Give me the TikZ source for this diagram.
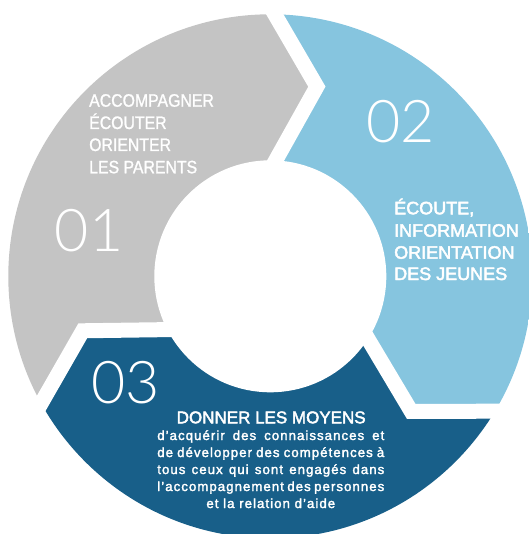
\documentclass[tikz,border=0pt]{standalone}
\usepackage{fontspec}
\setmainfont{Liberation Sans}
\newfontfamily\numfont{Lato Light}
\newfontfamily\grayfont{Liberation Sans}[FakeStretch=0.88,FakeBold=1.2]
\newfontfamily\medfont{Liberation Sans}[FakeBold=2.5]
\newfontfamily\bodyfont{Liberation Sans}[FakeBold=2.2,LetterSpace=8]
\usetikzlibrary{calc}
\definecolor{cgray}{HTML}{C4C4C4}
\definecolor{clight}{HTML}{86C5DF}
\definecolor{cdark}{HTML}{185F89}
\tikzset{
  gap/.style={draw=white, line width=15pt, line join=miter},
  num/.style={text=white, inner sep=0pt, font=\numfont\fontsize{59}{60}\selectfont},
  graytxt/.style={text=white, inner sep=0pt, anchor=base west, font=\grayfont\fontsize{18}{20}\selectfont},
  bluetxt/.style={text=white, inner sep=0pt, anchor=base west, font=\medfont\fontsize{18}{20}\selectfont},
  headtxt/.style={text=white, inner sep=0pt, anchor=base, font=\medfont\fontsize{17}{20}\selectfont},
  bodytxt/.style={text=white, inner sep=0pt, anchor=base, font=\bodyfont\fontsize{13.2}{16}\selectfont},
}
\begin{document}
\begin{tikzpicture}[x=1pt,y=1pt]
\useasboundingbox (0,0) rectangle (528,-534);
\coordinate (C) at (270.3,-276.3);
% chevron centre lines
\coordinate (T0) at ($(C)+(76.2:195.3)$);
\coordinate (F0) at ($(T0)+(120.2:300)$);
\coordinate (I0) at ($(T0)+(240.8:100)$);
\coordinate (T1) at ($(C)+(196.2:195.3)$);
\coordinate (F1) at ($(T1)+(240.2:300)$);
\coordinate (I1) at ($(T1)+(0.8:100)$);
\coordinate (T2) at ($(C)+(316.2:195.3)$);
\coordinate (F2) at ($(T2)+(0.2:300)$);
\coordinate (I2) at ($(T2)+(120.8:100)$);
\coordinate (G01) at ($(C)+(150:600)$);
\coordinate (G20) at ($(C)+(30:600)$);
\coordinate (G12) at ($(C)+(270:600)$);
\begin{scope}
  \clip (C) circle (262);
  \fill[cgray] (I0) -- (T0) -- (F0) -- (G01) -- (F1) -- (T1) -- (I1) -- (C) -- cycle;
  \fill[clight] (I2) -- (T2) -- (F2) -- (G20) -- (F0) -- (T0) -- (I0) -- (C) -- cycle;
  \fill[cdark] (I1) -- (T1) -- (F1) -- (G12) -- (F2) -- (T2) -- (I2) -- (C) -- cycle;
\end{scope}
\fill[white] (C) circle (116);
\draw[gap] (I0) -- (T0) -- (F0);
\draw[gap] (I1) -- (T1) -- (F1);
\draw[gap] (I2) -- (T2) -- (F2);
% numbers
\node[num] (n1) at (89.2,-230.5) {01};
\node[num] (n2) at (400.4,-121.7) {02};
\node[num] (n3) at (125.3,-382.5) {03};
% segment 01 text
\node[graytxt] (a1) at (89,-106.7) {ACCOMPAGNER};
\node[graytxt] (a2) at (89,-129) {ÉCOUTER};
\node[graytxt] (a3) at (89,-151) {ORIENTER};
\node[graytxt] (a4) at (89,-173.3) {LES PARENTS};
% segment 02 text
\node[bluetxt] (b1) at (394,-214.3) {ÉCOUTE,};
\node[bluetxt] (b2) at (394,-236.7) {INFORMATION};
\node[bluetxt] (b3) at (394,-258.7) {ORIENTATION};
\node[bluetxt] (b4) at (394,-280) {DES JEUNES};
% segment 03 text
\node[headtxt] (h) at (271.2,-423.3) {DONNER LES MOYENS};
\node[bodytxt] (c1) at (270.8,-440) {\makebox[227pt][s]{d’acquérir des connaissances et}};
\node[bodytxt] (c2) at (270.8,-457) {\makebox[227pt][s]{de développer des compétences à}};
\node[bodytxt] (c3) at (270.8,-474) {\makebox[227pt][s]{tous ceux qui sont engagés dans}};
\node[bodytxt] (c4) at (270.8,-491) {\makebox[227pt][s]{l’accompagnement des personnes}};
\node[bodytxt] (c5) at (270.8,-508) {et la relation d’aide};
\end{tikzpicture}
\end{document}
